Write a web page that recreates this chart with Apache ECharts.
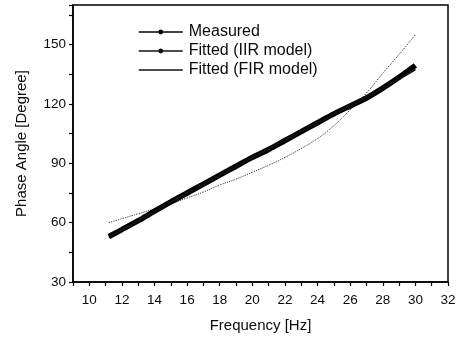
<!DOCTYPE html>
<html>
<head>
<meta charset="utf-8">
<script src="https://cdn.jsdelivr.net/npm/echarts@6/dist/echarts.min.js"></script>
<style>
  html, body { margin: 0; padding: 0; background: #fff; }
  #chart { width: 462px; height: 343px; }
</style>
</head>
<body>
<div id="chart"></div>
<script>
// Frequency samples (Hz)
const freq = [11.2, 12, 13, 14, 15, 16, 17, 18, 19, 20, 21, 22, 23, 24, 25, 26, 27, 28, 29, 30];
// Phase angle (degree)
const measured = [53, 56.5, 61, 65.8, 70.5, 75, 79.5, 84, 88.5, 93, 97, 101.5, 106, 110.5, 115, 119, 123, 128, 133.5, 139.5];
const fittedIIR = [52.5, 56.3, 60.9, 65.6, 70.3, 74.9, 79.4, 83.9, 88.4, 92.8, 97.2, 101.6, 106, 110.4, 114.8, 119.2, 123.5, 128, 132.6, 137.5];
const fittedFIR = [60, 62, 64.5, 67, 69.5, 72.5, 75.5, 79, 82, 85.5, 89, 93, 97.5, 102.5, 109, 117, 125.5, 135.5, 145, 155];

const names = ['Measured', 'Fitted (IIR model)', 'Fitted (FIR model)'];
const pairs = ys => freq.map((f, i) => [f, ys[i]]);

const font = 'Liberation Sans, Arial, sans-serif';
const ink = '#0a0a0a';
const chart = echarts.init(document.getElementById('chart'), null, { renderer: 'canvas' });

chart.setOption({
  animation: false,
  backgroundColor: '#fff',
  grid: {
    left: 73, right: 14, top: 5, bottom: 61,
    show: true, borderColor: '#000', borderWidth: 1.5, backgroundColor: 'transparent'
  },
  legend: {
    orient: 'vertical',
    left: 133, top: 19,
    itemWidth: 44, itemHeight: 6, itemGap: 3,
    textStyle: { fontFamily: font, fontSize: 16, color: ink, padding: [0, 0, 0, 1] },
    data: [
      { name: names[0], lineStyle: { width: 1.5, type: 'solid' } },
      { name: names[1], lineStyle: { width: 1.5, type: 'solid' } },
      { name: names[2], lineStyle: { width: 1.5, type: 'solid', color: '#111' }, itemStyle: { opacity: 0 } }
    ]
  },
  xAxis: {
    type: 'value', min: 9, max: 32, interval: 1,
    name: 'Frequency [Hz]', nameLocation: 'middle', nameGap: 36,
    nameTextStyle: { fontFamily: font, fontSize: 15, color: ink },
    axisLine: { lineStyle: { color: '#000', width: 1.5 } },
    axisTick: { inside: false, length: 4, lineStyle: { color: '#000', width: 1.2 } },
    axisLabel: {
      fontFamily: font, fontSize: 13.5, color: ink, margin: 11,
      formatter: v => (v % 2 === 0 ? String(v) : '')
    },
    splitLine: { show: false }
  },
  yAxis: {
    type: 'value', min: 30, max: 170, interval: 15,
    name: 'Phase Angle [Degree]', nameLocation: 'middle', nameGap: 44,
    nameTextStyle: { fontFamily: font, fontSize: 15, color: ink },
    axisLine: { show: true, lineStyle: { color: '#000', width: 1.5 } },
    axisTick: { show: true, inside: false, length: 4, lineStyle: { color: '#000', width: 1.2 } },
    axisLabel: {
      fontFamily: font, fontSize: 13.5, color: ink, margin: 7,
      formatter: v => (v % 30 === 0 && v <= 150 ? String(v) : '')
    },
    splitLine: { show: false }
  },
  series: [
    {
      name: names[0], type: 'line', data: pairs(measured), smooth: 0.3,
      symbol: 'circle', symbolSize: 3, showSymbol: false,
      lineStyle: { color: '#000', width: 5.5 }, itemStyle: { color: '#000' }, z: 3
    },
    {
      name: names[1], type: 'line', data: pairs(fittedIIR), smooth: true,
      symbol: 'circle', symbolSize: 2, showSymbol: false,
      lineStyle: { color: '#111', width: 2 }, itemStyle: { color: '#111' }, z: 4
    },
    {
      name: names[2], type: 'line', data: pairs(fittedFIR), smooth: true,
      symbol: 'none',
      lineStyle: { color: '#333', width: 1, type: [1.2, 1.2] }, itemStyle: { color: '#333' }, z: 2
    }
  ]
});
</script>
</body>
</html>
